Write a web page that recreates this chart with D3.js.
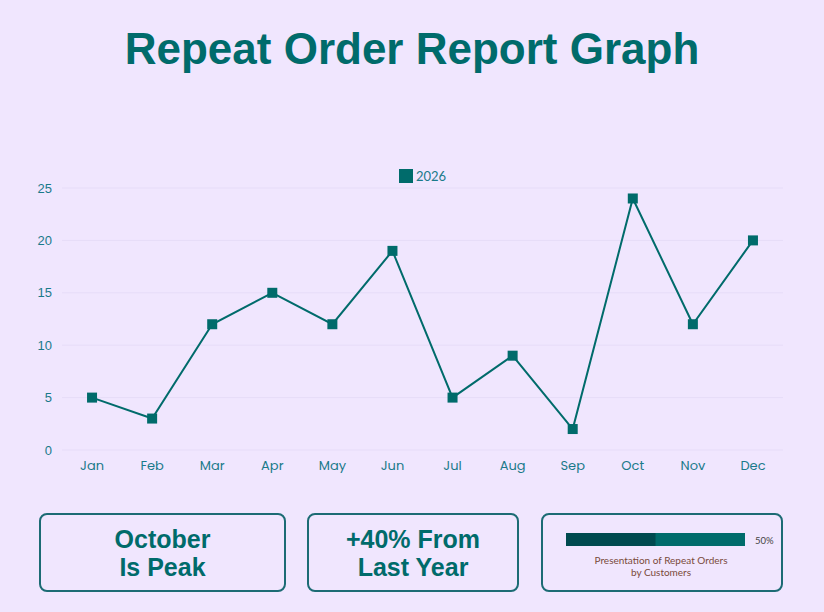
<!DOCTYPE html>
<html>
<head>
<meta charset="utf-8">
<script src="https://cdn.jsdelivr.net/npm/d3@7"></script>
<style>
  body { margin:0; background:#f0e6fe; font-family:"Liberation Sans", Arial, sans-serif; }
  .card { position:absolute; top:513px; height:79px; border:2px solid #1c6b74; border-radius:8px; box-sizing:border-box;
          display:flex; align-items:center; justify-content:center; text-align:center; color:#006b6b; font-weight:bold; font-size:25px; line-height:28px; }
</style>
</head>
<body>
<svg id="chart" width="824" height="505"></svg>
<div class="card" style="left:39px;width:247px;">October<br>Is Peak</div>
<div class="card" style="left:307px;width:212px;">+40% From<br>Last Year</div>
<div class="card" style="left:541px;width:242px;"><svg id="prog" width="238" height="75"></svg></div>
<script>
const months = ["Jan","Feb","Mar","Apr","May","Jun","Jul","Aug","Sep","Oct","Nov","Dec"];
const orders2026 = [5,3,12,15,12,19,5,9,2,24,12,20];
const yTicks = [0,5,10,15,20,25];
const repeatShare = 50;

const svg = d3.select("#chart");
const teal = "#006b6b";
svg.append("text").attr("x",412).attr("y",64).attr("text-anchor","middle")
  .attr("font-size",44).attr("font-weight","bold").attr("fill","#006b6b").text("Repeat Order Report Graph");

const x = d3.scaleBand().domain(months).range([62,783]);
const y = d3.scaleLinear().domain([0,25]).range([450,188]);

svg.append("g").selectAll("line").data(yTicks).join("line")
  .attr("x1",62).attr("x2",783).attr("y1",d=>y(d)).attr("y2",d=>y(d))
  .attr("stroke","#e6dcf8").attr("stroke-width",1);

const ya = svg.append("g").attr("transform","translate(62,0)")
  .call(d3.axisLeft(y).tickValues(yTicks).tickSize(0).tickPadding(10));
ya.select(".domain").remove();
ya.selectAll("text").attr("fill","#1a7a8a").attr("font-size",13).attr("font-family","Liberation Sans, Arial");

const xa = svg.append("g").attr("transform","translate(0,450)")
  .call(d3.axisBottom(x).tickSize(0).tickPadding(11));
xa.select(".domain").remove();
xa.selectAll("text").attr("fill","#1a7a8a").attr("font-size",13).attr("font-family","Poppins, Lato, sans-serif");

const cx = d => x(d) + x.bandwidth()/2;
svg.append("path").datum(orders2026)
  .attr("d", d3.line().x((d,i)=>cx(months[i])).y(d=>y(d)))
  .attr("fill","none").attr("stroke",teal).attr("stroke-width",2);
svg.append("g").selectAll("rect").data(orders2026).join("rect")
  .attr("x",(d,i)=>cx(months[i])-5).attr("y",d=>y(d)-5).attr("width",10).attr("height",10).attr("fill",teal);

svg.append("rect").attr("x",399).attr("y",169).attr("width",14).attr("height",14).attr("fill",teal);
svg.append("text").attr("x",416).attr("y",181).attr("font-size",13).attr("fill","#1a7a8a")
  .attr("font-family","Lato, sans-serif").text("2026");

const p = d3.select("#prog");
const px = d3.scaleLinear().domain([0,100]).range([23,202]);
p.append("rect").attr("x",px(0)).attr("y",18).attr("width",px(100)-px(0)).attr("height",13).attr("fill","#006b6b");
p.append("rect").attr("x",px(0)).attr("y",18).attr("width",px(repeatShare)-px(0)).attr("height",13).attr("fill","#004a4f");
p.append("text").attr("x",212).attr("y",29).attr("font-size",9.5).attr("font-weight","normal").attr("fill","#444")
  .attr("font-family","Lato, sans-serif").text(repeatShare+"%");
p.selectAll(".lab").data(["Presentation of Repeat Orders","by Customers"]).join("text")
  .attr("x",118).attr("y",(d,i)=>49+i*12).attr("text-anchor","middle").attr("font-size",10)
  .attr("font-weight","normal").attr("fill","#7a4a3a").attr("font-family","Lato, sans-serif").text(d=>d);
</script>
</body>
</html>
